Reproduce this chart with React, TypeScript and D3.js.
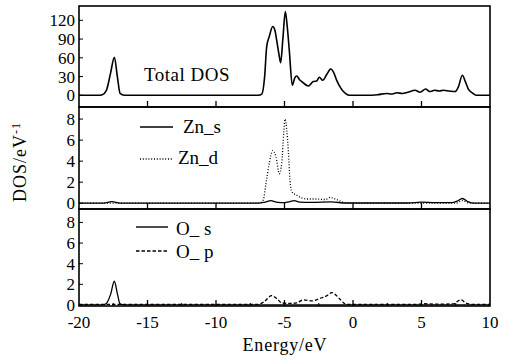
import React from 'react';
import * as d3 from 'd3';

// Total DOS (energy eV, states/eV)
const totalE = [-20, -18.6, -18.3, -18.0, -17.7, -17.42, -17.2, -17.0, -16.7, -10, -6.9, -6.66, -6.45, -6.3, -6.1, -5.86, -5.7, -5.57, -5.4, -5.28, -5.12, -4.94, -4.8, -4.65, -4.43, -4.25, -4.11, -3.9, -3.74, -3.26, -2.9, -2.65, -2.46, -2.21, -1.9, -1.63, -1.4, -1.19, -0.9, -0.7, -0.4, -0.2, 1.0, 1.8, 2.46, 2.8, 3.2, 3.6, 4.0, 4.53, 4.9, 5.3, 5.6, 5.95, 6.3, 6.6, 7.0, 7.45, 7.7, 7.98, 8.2, 8.42, 8.7, 9.0, 10];
const totalV = [0, 0, 1, 8, 35, 61, 30, 3, 0, 0, 0, 2, 30, 78, 95, 110, 104, 88, 65, 52, 90, 134, 110, 72, 16, 28, 31, 25, 22, 15, 22, 23, 29, 24, 34, 42, 36, 24, 12, 6, 1, 0, 0, 1, 3, 2, 4, 3, 5, 8, 5, 10, 6, 8, 7, 8, 7, 6, 14, 32, 22, 10, 4, 0, 0];

// Zn partial DOS
const znSE = [-20, -18.2, -17.6, -17.0, -7, -6.4, -6.0, -5.6, -5.0, -4.6, -4.3, -3.9, -3.0, -1.6, -0.5, 4.0, 5.0, 6.0, 7.2, 7.6, 7.98, 8.4, 8.8, 10];
const znSV = [0, 0, 0.15, 0, 0, 0.1, 0.25, 0.1, 0.05, 0.15, 0.25, 0.1, 0.08, 0.12, 0.02, 0.02, 0.1, 0.05, 0.05, 0.2, 0.45, 0.15, 0, 0];
const znDE = [-20, -7.0, -6.75, -6.55, -6.35, -6.11, -5.86, -5.62, -5.38, -5.2, -5.05, -4.96, -4.84, -4.72, -4.6, -4.47, -4.11, -3.38, -2.65, -2.0, -1.68, -1.2, -0.58, 0, 7.5, 7.98, 8.5, 10];
const znDV = [0, 0, 0.05, 0.3, 1.9, 3.8, 5.0, 4.4, 2.8, 3.8, 6.8, 8.0, 7.0, 5.0, 2.2, 1.1, 0.76, 0.4, 0.4, 0.35, 0.55, 0.35, 0.05, 0, 0, 0.25, 0, 0];

// O partial DOS
const oSE = [-20, -18.3, -18.0, -17.7, -17.42, -17.2, -17.0, -16.7, 10];
const oSV = [0, 0, 0.15, 1.0, 2.3, 1.1, 0.1, 0, 0];
const oPE = [-20, -7.0, -6.5, -5.94, -5.5, -5.2, -4.6, -4.1, -3.63, -3.0, -2.28, -1.9, -1.56, -1.2, -0.95, -0.46, 0, 4.5, 5.2, 6.0, 7.3, 7.86, 8.3, 8.8, 10];
const oPV = [0.05, 0.05, 0.3, 0.9, 0.55, 0.2, 0.15, 0.2, 0.5, 0.4, 0.7, 0.9, 1.2, 0.9, 0.55, 0.05, 0.05, 0.05, 0.12, 0.08, 0.1, 0.5, 0.15, 0.05, 0.05];

const xTicks = [-20, -15, -10, -5, 0, 5, 10];
const xMinor = [-17.5, -12.5, -7.5, -2.5, 2.5, 7.5];
const totalTicks = [0, 30, 60, 90, 120];
const pdosTicks = [0, 2, 4, 6, 8];

const W = 509;
const H = 359;
const left = 79;
const right = 490;
const font = "'Times New Roman', 'Liberation Serif', Times, 'DejaVu Serif', 'Noto Serif', serif";
const ts = { fontFamily: font };

const x = d3.scaleLinear().domain([-20, 10]).range([left, right]);

const panels = [
  { top: 6, bottom: 107, domain: [-18.7, 142.9], ticks: totalTicks },
  { top: 107, bottom: 209, domain: [-0.55, 9.15], ticks: pdosTicks },
  { top: 209, bottom: 306, domain: [-0.1, 9.3], ticks: pdosTicks },
];

const ys = panels.map(p => d3.scaleLinear().domain(p.domain).range([p.bottom, p.top]));

function path(es: number[], vs: number[], y: d3.ScaleLinear<number, number>) {
  const pts = es.map((e, i) => [e, vs[i]] as [number, number]);
  return d3.line<[number, number]>()
    .x(d => x(d[0]))
    .y(d => y(d[1]))
    .curve(d3.curveMonotoneX)(pts) || '';
}

export default function App() {
  return (
    <svg width={W} height={H} style={{ position: 'absolute', left: 0, top: 0, background: '#fff' }}>
      <rect width={W} height={H} fill="#fff" />
      {/* curves */}
      <path d={path(totalE, totalV, ys[0])} fill="none" stroke="#000" strokeWidth={1.6} />
      <path d={path(znDE, znDV, ys[1])} fill="none" stroke="#000" strokeWidth={1.3} strokeDasharray="1,1.8" />
      <path d={path(znSE, znSV, ys[1])} fill="none" stroke="#000" strokeWidth={1.3} />
      <path d={path(oPE, oPV, ys[2])} fill="none" stroke="#000" strokeWidth={1.3} strokeDasharray="3.5,2" />
      <path d={path(oSE, oSV, ys[2])} fill="none" stroke="#000" strokeWidth={1.3} />

      {/* frames and ticks */}
      {panels.map((p, i) => (
        <g key={i}>
          <rect x={left} y={p.top} width={right - left} height={p.bottom - p.top} fill="none" stroke="#000" strokeWidth={1.6} />
          {xTicks.slice(1, -1).map(t => (
            <line key={t} x1={x(t)} x2={x(t)} y1={p.bottom} y2={p.bottom - 6} stroke="#000" strokeWidth={1.3} />
          ))}
          {i === 2 && xMinor.map(t => (
            <line key={t} x1={x(t)} x2={x(t)} y1={p.bottom} y2={p.bottom - 3} stroke="#000" strokeWidth={1} />
          ))}
          {p.ticks.map(t => (
            <g key={t}>
              <line x1={left} x2={left + 4} y1={ys[i](t)} y2={ys[i](t)} stroke="#000" strokeWidth={1} />
              <text x={left - 4} y={ys[i](t)} dy="0.35em" textAnchor="end" fontSize={17} style={ts}>{t}</text>
            </g>
          ))}
        </g>
      ))}

      {/* x tick labels */}
      {xTicks.map(t => (
        <text key={t} x={x(t)} y={328} textAnchor="middle" fontSize={17} style={ts}>{t}</text>
      ))}
      <text x={285} y={351} textAnchor="middle" fontSize={18} letterSpacing={0.8} style={ts}>Energy/eV</text>

      {/* y axis label */}
      <text transform="translate(26,162) rotate(-90)" textAnchor="middle" fontSize={18} letterSpacing={1} style={ts}>
        DOS/eV<tspan dy={-6} fontSize={12}>-1</tspan>
      </text>

      {/* labels and legends */}
      <text x={144} y={81} fontSize={19} letterSpacing={0.5} style={ts}>Total DOS</text>

      <line x1={140} x2={173} y1={127} y2={127} stroke="#000" strokeWidth={1.4} />
      <text x={183} y={133} fontSize={19} style={ts}>Zn_s</text>
      <line x1={140} x2={173} y1={159} y2={159} stroke="#000" strokeWidth={1.3} strokeDasharray="1,1.8" />
      <text x={178} y={164} fontSize={19} style={ts}>Zn_d</text>

      <line x1={136} x2={168} y1={227} y2={227} stroke="#000" strokeWidth={1.4} />
      <text x={176} y={235} fontSize={19} style={ts}>O_ s</text>
      <line x1={136} x2={168} y1={251} y2={251} stroke="#000" strokeWidth={1.3} strokeDasharray="3.5,2" />
      <text x={176} y={258} fontSize={19} style={ts}>O_ p</text>
    </svg>
  );
}
